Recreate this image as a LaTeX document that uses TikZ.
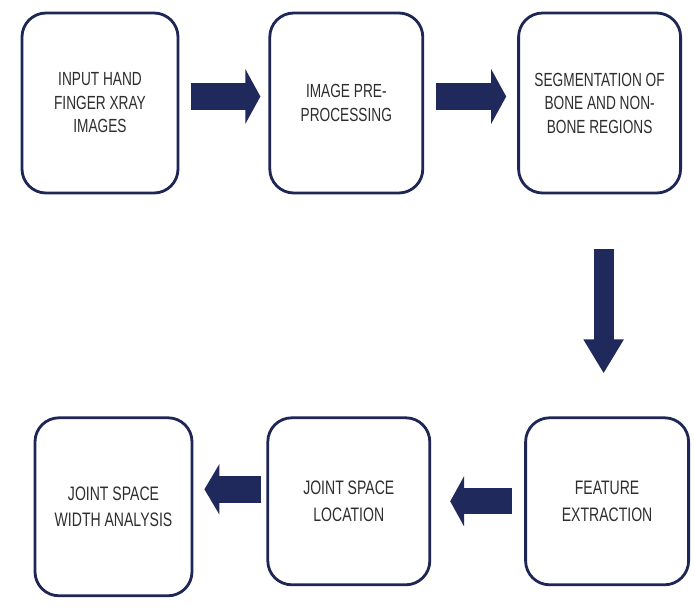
\documentclass[tikz,border=0pt]{standalone}
\usepackage{fontspec}
\setmainfont{Liberation Sans}[FakeStretch=0.72]
\usepackage{tikz}
\usetikzlibrary{arrows.meta,positioning}
\usepackage{xcolor}
\definecolor{boxnavy}{HTML}{1E2656}
\definecolor{arrownavy}{HTML}{1F295C}
\definecolor{textgray}{HTML}{2E2E2E}

\begin{document}
\begin{tikzpicture}[
  x=1pt, y=1pt,
  font=\fontsize{19}{23.5}\selectfont,
  box/.style={draw=boxnavy, line width=2.8pt, rounded corners=24pt, align=center, text=textgray, inner sep=4pt},
  low/.style={font=\fontsize{19.5}{26.5}\selectfont},
  arr/.style={draw=arrownavy, line width=27pt, -{Triangle[length=15pt,width=54pt]}}
]
\useasboundingbox (0,0) rectangle (694,-613);
\fill[white] (0,0) rectangle (694,-613);
% top row
\node[box, minimum width=156pt, minimum height=180pt] (input) at (100,-103) {INPUT HAND\\FINGER XRAY\\IMAGES};
\node[box, minimum width=153pt, minimum height=180pt, right=89pt of input] (prep) {IMAGE PRE-\\PROCESSING};
\node[box, minimum width=162pt, minimum height=180pt, right=93pt of prep] (seg) {SEGMENTATION OF\\BONE AND NON-\\BONE REGIONS};
% bottom row
\node[box, low, minimum width=163pt, minimum height=167pt, below=222pt of seg, xshift=7.5pt] (feat) {FEATURE\\EXTRACTION};
\node[box, low, minimum width=162pt, minimum height=167pt, left=93pt of feat] (loc) {JOINT SPACE\\LOCATION};
\node[box, low, minimum width=157pt, minimum height=178pt, left=73pt of loc, yshift=-5.5pt] (width) {JOINT SPACE\\WIDTH ANALYSIS};
% block arrows
\draw[arr, shorten <=12pt, shorten >=8pt] ([yshift=6.5pt]input.east) -- ([yshift=6.5pt]input.east -| prep.west);
\draw[arr, shorten <=12pt, shorten >=11pt] ([yshift=6.5pt]prep.east) -- ([yshift=6.5pt]prep.east -| seg.west);
\draw[arr, line width=20pt, -{Triangle[length=34pt,width=38pt]}, shorten <=55pt, shorten >=43pt] ([xshift=4pt]seg.south) -- ([xshift=4pt]seg.south |- feat.north);
\draw[arr, line width=26pt, -{Triangle[length=14pt,width=50pt]}, shorten <=12pt, shorten >=19pt] (feat.west) -- (feat.west -| loc.east);
\draw[arr, -{Triangle[length=15pt,width=50pt]}, shorten <=5pt, shorten >=11pt] ([yshift=12pt]loc.west) -- ([yshift=12pt]loc.west -| width.east);
\end{tikzpicture}
\end{document}
